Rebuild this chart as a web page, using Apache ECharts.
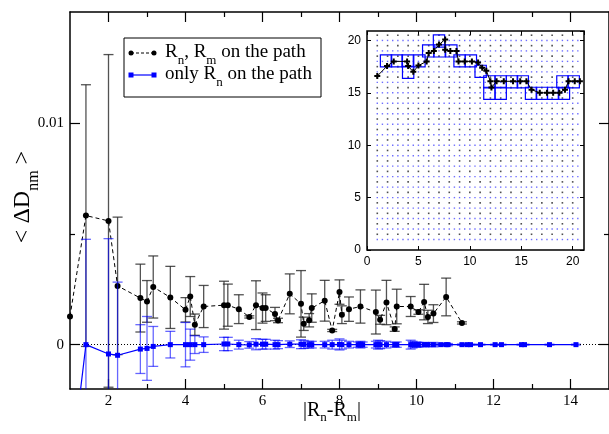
<!DOCTYPE html>
<html><head><meta charset="utf-8">
<script src="https://cdn.jsdelivr.net/npm/echarts@6/dist/echarts.min.js"></script>
<style>html,body{margin:0;padding:0;background:#fff}#c{width:609px;height:434px}</style>
</head><body><div id="c"></div>
<script>
// ---- main plot data ----
const xBlack = [1.000,1.414,2.000,2.236,2.828,3.000,3.162,3.606,4.000,4.123,4.243,4.472,5.000,5.099,5.385,5.657,5.831,6.000,6.083,6.325,6.403,6.708,7.000,7.071,7.211,7.280,7.616,7.810,8.000,8.062,8.246,8.544,8.944,9.055,9.220,9.434,9.487,9.849,10.050,10.198,10.296,10.440,10.770,11.180];
const yBlack = [0.00127,0.00582,0.00558,0.00265,0.00210,0.00195,0.00260,0.00213,0.00157,0.00217,0.00090,0.00172,0.00178,0.00178,0.00160,0.00125,0.00178,0.00165,0.00165,0.00138,0.00109,0.00229,0.00184,0.00094,0.00110,0.00165,0.00198,0.00064,0.00237,0.00135,0.00160,0.00172,0.00147,0.00112,0.00190,0.00070,0.00172,0.00172,0.00147,0.00192,0.00125,0.00140,0.00215,0.00098];
const errBlack = [0,0.0059,0.0075,0.0031,0.00153,0.00094,0.0014,0.0014,0.00055,0.0009,0.00048,0.00095,0.00108,0.00095,0.00065,0.00005,0.0011,0.00068,0.0006,0.0003,0.0001,0.0009,0.0015,0.0003,0.0003,0.00064,0.00092,0.00005,0.00055,0.0004,0.00055,0.00075,0.00099,0.0002,0.001,0.0001,0.00078,0.00045,0.0001,0.0008,0.0003,0.0004,0.00085,0.00005];

const xBlue = [1.000,1.414,2.000,2.236,2.828,3.000,3.162,3.606,4.000,4.123,4.243,4.472,5.000,5.099,5.385,5.657,5.831,6.000,6.083,6.325,6.403,6.708,7.000,7.071,7.211,7.280,7.616,7.810,8.000,8.062,8.246,8.485,8.544,8.602,8.944,9.000,9.055,9.220,9.434,9.487,9.849,9.899,10.000,10.050,10.198,10.296,10.440,10.630,10.770,10.817,11.180,11.314,11.402,11.662,12.042,12.207,12.728,12.806,13.454,14.142];
const yBlue = [-0.006,0.0,-0.00042,-0.00048,-0.0002,-0.00017,-0.00008,0.0,0.0,0.0,0.0,0.0,0.00003,0.00003,0.0,-0.00001,0.00002,0.00002,0.00002,0.0,0.0,0.00002,0.00002,0.00001,0.0,0.0,0.0,0.0,0.00001,0.0,0.0,0.0,0.0,0.0,0.0,0.0,0.0,0.0,0.0,0.0,0.0,0.0,0.0,0.0,0.0,0.0,0.0,0.0,0.0,0.0,0.0,0.0,0.0,0.0,0.0,0.0,0.0,0.0,0.0,0.0];
const errBlue = [0,0.00475,0.0052,0.0033,0.0011,0.00144,0.0009,0.0006,0.001,0.0007,0.0004,0.00035,0.0003,0.0003,0.0002,0.00015,0.00025,0.00022,0.00022,0.0002,0.00018,0.00015,0.0002,0.00018,0.00015,0.00015,0.00015,0.0002,0.00025,0.0002,0.00015,0.00012,0.00015,0.00012,0.00015,0.0002,0.00018,0.00015,0.0001,0.00012,0.0002,0.00015,0.00012,0.0001,0.0001,0.00008,0.0001,0.00005,0.00005,0.00005,0.00003,0.00003,0.00003,0.00002,0.00002,0.00002,0.00002,0.00002,0.00002,0.00002];

const mainXTicks = [2,4,6,8,10,12,14];
const mainXMinor = [3,5,7,9,11,13];
const mainYTicks = [0,0.01];
const mainYMinor = [0.005];

// ---- inset data ----
const insetTicks = [0,5,10,15,20];
const lattice = [1,1.5,2,2.5,3,3.5,4,4.5,5,5.5,6,6.5,7,7.5,8,8.5,9,9.5,10,10.5,11,11.5,12,12.5,13,13.5,14,14.5,15,15.5,16,16.5,17,17.5,18,18.5,19,19.5,20,20.5];
const pathX = [1.0,1.95,2.6,3.9,4.0,4.5,5.0,5.8,6.0,6.5,7.0,7.6,7.6,8.1,8.7,8.9,9.5,10.2,10.8,11.2,11.6,12.0,12.1,12.6,13.3,14.2,14.9,15.5,16.0,16.8,17.5,18.1,18.7,19.25,19.6,20.2,20.7];
const pathY = [16.6,17.55,18.0,18.0,17.55,17.0,17.6,18.0,18.8,19.0,19.6,20.1,19.1,19.0,19.0,18.0,18.0,18.0,17.9,17.4,17.1,16.1,15.5,16.1,16.1,16.1,16.1,16.1,15.3,15.0,15.0,15.0,15.0,15.3,16.1,16.1,16.1];
const boxX = [1.85,2.9,3.95,5.1,4.0,5.95,7.05,8.2,7.0,9.0,10.1,11.05,11.9,13.0,14.1,15.15,11.9,13.0,15.95,17.0,18.1,19.15,19.0,20.1];
const boxY = [18.05,18.05,18.05,18.05,16.95,19.0,19.0,19.0,19.95,18.05,18.05,17.05,16.05,16.05,16.05,16.05,14.95,14.95,14.95,14.95,14.95,14.95,16.05,16.05];

const SERIF = "'Liberation Serif','Times New Roman',serif";
const SANS = "'Liberation Sans',Arial,sans-serif";

const blackPts = xBlack.map((x,i)=>[x,yBlack[i]]);
const blackErr = xBlack.map((x,i)=>[x,yBlack[i],errBlack[i]]);
const bluePts = xBlue.map((x,i)=>[x,yBlue[i]]);
const blueErr = xBlue.map((x,i)=>[x,yBlue[i],errBlue[i]]);
const latticeBlue = [], latticeBlack = [];
lattice.forEach(yv=>lattice.forEach(xv=>{
  if (Number.isInteger(yv)) latticeBlue.push([xv,yv]);
  else if (Number.isInteger(xv)) latticeBlack.push([xv,yv]);
}));
const pathPts = pathX.map((x,i)=>[x,pathY[i]]);
const boxes = boxX.map((x,i)=>[x,boxY[i]]);

function errRender(color){
  return function(params, api){
    const x = api.value(0), y = api.value(1), e = api.value(2);
    if (!(e > 0)) return null;
    const top = api.coord([x, y+e]), bot = api.coord([x, y-e]);
    const hw = 5;
    return {type:'group', children:[
      {type:'line', shape:{x1:top[0],y1:top[1],x2:bot[0],y2:bot[1]}, style:{stroke:color,lineWidth:1.3}},
      {type:'line', shape:{x1:top[0]-hw,y1:top[1],x2:top[0]+hw,y2:top[1]}, style:{stroke:color,lineWidth:1.3}},
      {type:'line', shape:{x1:bot[0]-hw,y1:bot[1],x2:bot[0]+hw,y2:bot[1]}, style:{stroke:color,lineWidth:1.3}}
    ]};
  };
}

function rich(main, sub, lh){
  return {
    a:{fontFamily:SERIF, fontSize:main, verticalAlign:'top', fill:'#000'},
    s:{fontFamily:SERIF, fontSize:sub, lineHeight:lh, verticalAlign:'bottom', fill:'#000'}
  };
}

const chart = echarts.init(document.getElementById('c'), null, {renderer:'canvas'});
const mainX = {gridIndex:0, type:'value', min:1, max:15, splitLine:{show:false}};
const mainY = {gridIndex:0, type:'value', min:-0.002, max:0.015, splitLine:{show:false}};
const axLine = {show:true, onZero:false, lineStyle:{color:'#000', width:1.5}};
const noLine = {show:false, onZero:false};

chart.setOption({
  animation:false,
  backgroundColor:'#fff',
  grid:[
    {left:70, top:12, width:541, height:377, show:false},
    {left:367, top:31, width:217, height:219, show:true, backgroundColor:'#fff', borderColor:'#000', borderWidth:1.5, z:5}
  ],
  xAxis:[
    Object.assign({}, mainX, {position:'bottom', axisLine:axLine,
      axisTick:{inside:true, length:10, customValues:mainXTicks, lineStyle:{color:'#000',width:1.2}},
      axisLabel:{customValues:mainXTicks, fontFamily:SERIF, fontSize:15, color:'#000', margin:5}}),
    Object.assign({}, mainX, {position:'bottom', axisLine:noLine,
      axisTick:{inside:true, length:5, customValues:mainXMinor, lineStyle:{color:'#000',width:1.2}},
      axisLabel:{show:false}}),
    Object.assign({}, mainX, {position:'top', axisLine:axLine,
      axisTick:{inside:true, length:10, customValues:mainXTicks, lineStyle:{color:'#000',width:1.2}},
      axisLabel:{show:false}}),
    Object.assign({}, mainX, {position:'top', axisLine:noLine,
      axisTick:{inside:true, length:5, customValues:mainXMinor, lineStyle:{color:'#000',width:1.2}},
      axisLabel:{show:false}}),
    {gridIndex:1, type:'value', min:0, max:21.1, interval:5, position:'bottom', z:6,
      axisLine:noLine, splitLine:{show:false},
      axisTick:{inside:true, length:4, lineStyle:{color:'#000'}},
      axisLabel:{fontFamily:SANS, fontSize:12, color:'#000', margin:6}},
    {gridIndex:1, type:'value', min:0, max:21.1, interval:5, position:'top', z:6,
      axisLine:noLine, splitLine:{show:false},
      axisTick:{inside:true, length:4, lineStyle:{color:'#000'}}, axisLabel:{show:false}}
  ],
  yAxis:[
    Object.assign({}, mainY, {position:'left', axisLine:axLine,
      axisTick:{inside:true, length:10, customValues:mainYTicks, lineStyle:{color:'#000',width:1.2}},
      axisLabel:{customValues:mainYTicks, fontFamily:SERIF, fontSize:15, color:'#000', margin:6,
        formatter:v=> v===0 ? '0' : String(+v.toFixed(3))}}),
    Object.assign({}, mainY, {position:'left', axisLine:noLine,
      axisTick:{inside:true, length:5, customValues:mainYMinor, lineStyle:{color:'#000',width:1.2}},
      axisLabel:{show:false}}),
    Object.assign({}, mainY, {position:'right', axisLine:axLine,
      axisTick:{inside:true, length:10, customValues:mainYTicks, lineStyle:{color:'#000',width:1.2}},
      axisLabel:{show:false}}),
    Object.assign({}, mainY, {position:'right', axisLine:noLine,
      axisTick:{inside:true, length:5, customValues:mainYMinor, lineStyle:{color:'#000',width:1.2}},
      axisLabel:{show:false}}),
    {gridIndex:1, type:'value', min:0, max:20.9, interval:5, position:'left', z:6,
      axisLine:noLine, splitLine:{show:false},
      axisTick:{inside:true, length:4, lineStyle:{color:'#000'}},
      axisLabel:{fontFamily:SANS, fontSize:12, color:'#000', margin:6}},
    {gridIndex:1, type:'value', min:0, max:20.9, interval:5, position:'right', z:6,
      axisLine:noLine, splitLine:{show:false},
      axisTick:{inside:true, length:4, lineStyle:{color:'#000'}}, axisLabel:{show:false}}
  ],
  series:[
    {type:'custom', xAxisIndex:0, yAxisIndex:0, data:blackErr, renderItem:errRender('rgba(40,40,40,0.8)'), clip:true, z:2},
    {type:'line', xAxisIndex:0, yAxisIndex:0, data:blackPts, symbol:'circle', symbolSize:6,
      lineStyle:{color:'#000', width:1, type:[4,3]}, itemStyle:{color:'#000'}, z:3,
      markLine:{silent:true, symbol:['none','none'], label:{show:false},
        lineStyle:{color:'#000', width:1, type:[1,2]}, data:[{yAxis:0}]}},
    {type:'custom', xAxisIndex:0, yAxisIndex:0, data:blueErr, renderItem:errRender('rgba(0,0,255,0.6)'), clip:true, z:4},
    {type:'line', xAxisIndex:0, yAxisIndex:0, data:bluePts, symbol:'rect', symbolSize:5,
      lineStyle:{color:'#0000ff', width:1.2}, itemStyle:{color:'#0000ff'}, z:5},
    {type:'scatter', xAxisIndex:4, yAxisIndex:4, data:latticeBlue, symbol:'rect', symbolSize:1.4,
      itemStyle:{color:'#4a4aff'}, z:6},
    {type:'scatter', xAxisIndex:4, yAxisIndex:4, data:latticeBlack, symbol:'rect', symbolSize:1.6,
      itemStyle:{color:'#222'}, z:6},
    {type:'custom', xAxisIndex:4, yAxisIndex:4, data:boxes, z:7,
      renderItem:function(params, api){
        const cx = api.value(0), cy = api.value(1);
        const a = api.coord([cx-0.55, cy+0.58]), b = api.coord([cx+0.55, cy-0.58]);
        return {type:'rect', shape:{x:a[0], y:a[1], width:b[0]-a[0], height:b[1]-a[1]},
          style:{fill:'none', stroke:'#0000ff', lineWidth:1.2}};
      }},
    {type:'line', xAxisIndex:4, yAxisIndex:4, data:pathPts, z:8,
      symbol:'path://M2,0H4V2H6V4H4V6H2V4H0V2H2Z', symbolSize:6,
      lineStyle:{color:'#000', width:1}, itemStyle:{color:'#000'}}
  ],
  graphic:[
    {type:'rect', shape:{x:124, y:38, width:197, height:59}, style:{fill:'#fff', stroke:'#000', lineWidth:1}, z:10},
    {type:'line', shape:{x1:131, y1:53, x2:154, y2:53}, style:{stroke:'#000', lineWidth:1, lineDash:[3,2]}, z:11},
    {type:'circle', shape:{cx:131, cy:53, r:2.5}, style:{fill:'#000'}, z:11},
    {type:'circle', shape:{cx:154, cy:53, r:2.5}, style:{fill:'#000'}, z:11},
    {type:'line', shape:{x1:131, y1:75, x2:154, y2:75}, style:{stroke:'#0000ff', lineWidth:1.2}, z:11},
    {type:'rect', shape:{x:128.5, y:72.5, width:5, height:5}, style:{fill:'#0000ff'}, z:11},
    {type:'rect', shape:{x:151.5, y:72.5, width:5, height:5}, style:{fill:'#0000ff'}, z:11},
    {type:'text', x:165, y:43, z:11, style:{text:'{a|R}{s|n}{a|, R}{s|m}{a| on the path}', align:'left', verticalAlign:'top',
      rich:rich(19, 13, 24)}},
    {type:'text', x:165, y:65, z:11, style:{text:'{a|only R}{s|n}{a| on the path}', align:'left', verticalAlign:'top',
      rich:rich(19, 13, 24)}},
    {type:'text', x:11, y:197, rotation:Math.PI/2, z:11, style:{text:'{a|< ΔD}{s|nm}{a| >}', align:'center', verticalAlign:'top',
      rich:rich(24, 16, 31)}},
    {type:'text', x:332, y:401, z:11, style:{text:'{a||R}{s|n}{a|-R}{s|m}{a||}', align:'center', verticalAlign:'top',
      rich:rich(20, 13, 23)}}
  ]
});
</script></body></html>
